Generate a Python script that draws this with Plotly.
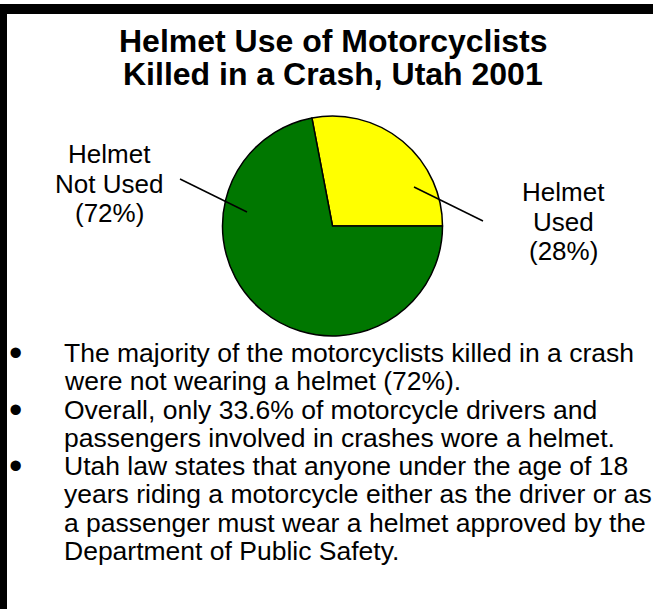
import plotly.graph_objects as go

W, H = 653, 609

# ---- data ----
labels = ["Helmet Used", "Helmet Not Used"]
label_lines = [["Helmet", "Used", "(28%)"], ["Helmet", "Not Used", "(72%)"]]
values = [28, 72]
colors = ["#FFFF00", "#007700"]

title_lines = ["Helmet Use of Motorcyclists", "Killed in a Crash, Utah 2001"]
bullets = [
    ["The majority of the motorcyclists killed in a crash",
     "were not wearing a helmet (72%)."],
    ["Overall, only 33.6% of motorcycle drivers and",
     "passengers involved in crashes wore a helmet."],
    ["Utah law states that anyone under the age of 18",
     "years riding a motorcycle either as the driver or as",
     "a passenger must wear a helmet approved by the",
     "Department of Public Safety."],
]


def px(x):
    return x / W


def py(y):
    return 1 - y / H


cx, cy, r = 332.5, 226, 110
rotation = 90 - values[0] / sum(values) * 360

fig = go.Figure()
fig.add_trace(go.Pie(
    labels=labels, values=values, sort=False,
    direction="clockwise", rotation=rotation,
    marker=dict(colors=colors, line=dict(color="black", width=1.5)),
    textinfo="none", hoverinfo="label+percent", showlegend=False,
    domain=dict(x=[px(cx - r), px(cx + r)], y=[py(cy + r), py(cy - r)]),
))

FONT = "Liberation Sans, Arial, sans-serif"
ann = []


def add_text(x, y, text, size, anchor="center", bold=False):
    ann.append(dict(x=px(x), y=py(y), xref="paper", yref="paper",
                    text=("<b>%s</b>" % text) if bold else text,
                    showarrow=False, xanchor=anchor, yanchor="middle",
                    font=dict(family=FONT, size=size, color="black")))


# title
for i, t in enumerate(title_lines):
    add_text(333, 41 + i * 33, t, 32, bold=True)

# pie labels
for i, t in enumerate(label_lines[0]):
    add_text(563, 192 + i * 29.5, t, 26)
for i, t in enumerate(label_lines[1]):
    add_text(109, 154 + i * 29.5, t, 26)

# bullets
line_h = 28.3
y0 = 353
row = 0
for para in bullets:
    add_text(15, y0 + row * line_h, "•", 38)
    for ln in para:
        add_text(62, y0 + row * line_h, ln, 26.5, anchor="left")
        row += 1

shapes = [
    dict(type="rect", xref="paper", yref="paper", x0=0, x1=1, y0=py(14), y1=py(4),
         fillcolor="black", line=dict(width=0)),
    dict(type="rect", xref="paper", yref="paper", x0=0, x1=px(7), y0=0, y1=py(4),
         fillcolor="black", line=dict(width=0)),
    dict(type="line", xref="paper", yref="paper", x0=px(180), y0=py(179), x1=px(247), y1=py(212),
         line=dict(color="black", width=1.5)),
    dict(type="line", xref="paper", yref="paper", x0=px(414), y0=py(187), x1=px(483), y1=py(221),
         line=dict(color="black", width=1.5)),
]

fig.update_layout(
    width=W, height=H, margin=dict(l=0, r=0, t=0, b=0),
    paper_bgcolor="white", plot_bgcolor="white",
    annotations=ann, shapes=shapes,
)
fig.write_html("out.html", config={"displayModeBar": False},
               post_script="document.body.style.margin='0';")
